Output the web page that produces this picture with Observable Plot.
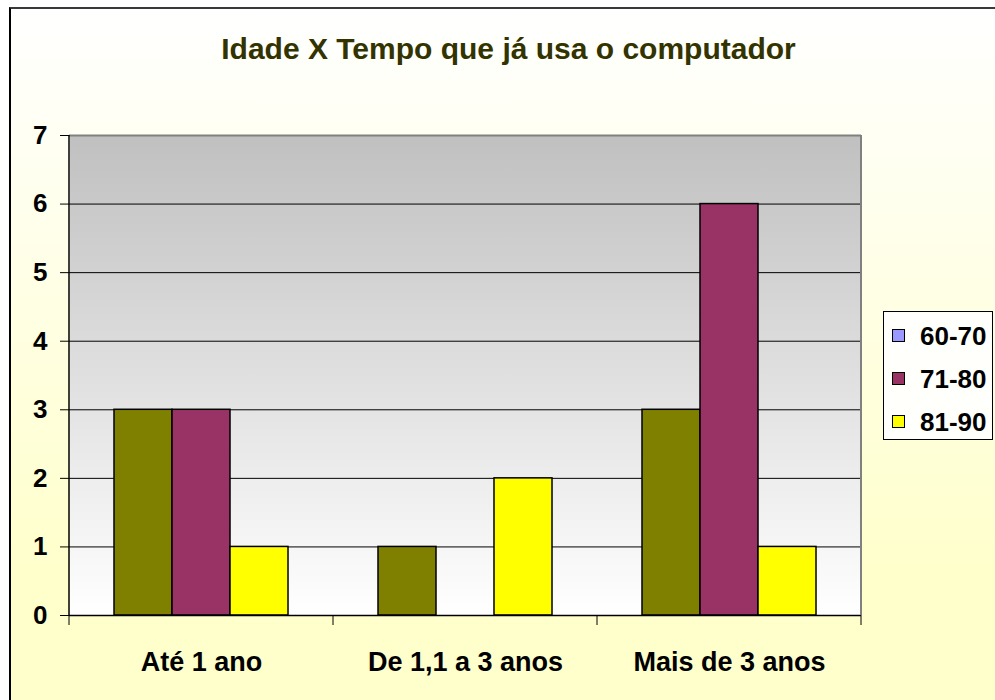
<!DOCTYPE html>
<html><head><meta charset="utf-8">
<script src="https://cdn.jsdelivr.net/npm/d3@7"></script>
<script src="https://cdn.jsdelivr.net/npm/@observablehq/plot@0.6"></script>
<style>
body{margin:0;background:#fff;}
#wrap{position:relative;width:995px;height:700px;overflow:hidden;font-family:"Liberation Sans",Arial,sans-serif;}
#area{position:absolute;left:9px;top:7px;width:1000px;height:720px;border-top:2px solid #3a3a3a;border-left:2px solid #000;background:linear-gradient(to bottom,#ffffff 0%,#ffffcc 78%);box-sizing:border-box;}
#title{position:absolute;left:9px;width:999px;top:34px;text-align:center;font-size:30px;line-height:30px;font-weight:bold;color:#333300;}
#plot{position:absolute;left:0;top:0;}
#legend{position:absolute;left:883px;top:311px;width:110px;height:129px;box-sizing:border-box;border:1px solid #000;background:#fffffb;padding-top:2px;}
.row{display:flex;align-items:center;height:43px;}
.sw{width:11px;height:11px;border:1px solid #000;margin-left:8px;margin-right:15px;}
.lt{font-size:26px;font-weight:bold;color:#000;line-height:26px;}
</style></head>
<body>
<div id="wrap">
  <div id="area"></div>
  <div id="plot"></div>
  <div id="title"></div>
  <div id="legend"></div>
</div>
<script>
const chartTitle = "Idade X Tempo que já usa o computador";
const categories = ["Até 1 ano", "De 1,1 a 3 anos", "Mais de 3 anos"];
const seriesNames = ["60-70", "71-80", "81-90"];
const values6070 = [3, 1, 3];
const values7180 = [3, 0, 6];
const values8190 = [1, 2, 1];
const yTicks = [0, 1, 2, 3, 4, 5, 6, 7];
const barColors = ["#808000", "#993366", "#FFFF00"];
const legendColors = ["#9999FF", "#993366", "#FFFF00"];

const seriesValues = [values6070, values7180, values8190];
const table = [];
categories.forEach((c, i) => {
  seriesNames.forEach((s, j) => {
    table.push({cat: c, series: s, value: seriesValues[j][i]});
  });
});

const chart = Plot.plot({
  width: 995, height: 700,
  marginLeft: 69, marginRight: 134, marginTop: 135, marginBottom: 85,
  style: {background: "transparent", fontFamily: "Liberation Sans, Arial, sans-serif", fontWeight: "bold", color: "#000"},
  fx: {domain: categories, padding: 0, label: null},
  x: {domain: seriesNames, paddingInner: 0, paddingOuter: 0.75, axis: null},
  y: {domain: [0, 7], axis: null},
  color: {domain: seriesNames, range: barColors},
  marks: [
    Plot.frame({fill: "url(#plotBg)", stroke: "none", shapeRendering: "crispEdges"}),
    Plot.ruleY(yTicks.filter(d => d > 0 && d < 7), {stroke: "#000", strokeWidth: 1}),
    Plot.ruleY([7], {stroke: "#808080", strokeWidth: 2}),
    Plot.barY(table, {fx: "cat", x: "series", y: "value", fill: "series", stroke: "#000", strokeWidth: 1.5}),
    Plot.ruleY([0], {stroke: "#000", strokeWidth: 1.5}),
    Plot.axisY({ticks: yTicks, tickSize: 9, tickPadding: 13, fontSize: 26, tickFormat: d => String(d), anchor: "left", label: null}),
    Plot.axisFx({anchor: "bottom", tickSize: 0, tickPadding: 36, fontSize: 27, label: null})
  ]
});

const svg = d3.select(chart);
const defs = svg.insert("defs", ":first-child");
const lg = defs.append("linearGradient").attr("id", "plotBg").attr("x1", 0).attr("y1", 0).attr("x2", 0).attr("y2", 1);
lg.append("stop").attr("offset", "0%").attr("stop-color", "#c0c0c0");
lg.append("stop").attr("offset", "100%").attr("stop-color", "#ffffff");

const fx = chart.scale("fx"), ys = chart.scale("y");
const bw = fx.bandwidth;
const starts = categories.map(c => fx.apply(c));
const xEnd = starts[starts.length - 1] + bw;
const y0 = ys.apply(0), yTop = ys.apply(7);
const g = svg.append("g");
g.append("line").attr("x1", xEnd).attr("x2", xEnd).attr("y1", yTop).attr("y2", y0).attr("stroke", "#808080").attr("stroke-width", 2);
g.append("line").attr("x1", starts[0]).attr("x2", starts[0]).attr("y1", yTop).attr("y2", y0).attr("stroke", "#000").attr("stroke-width", 1.5);
starts.concat([xEnd]).forEach(x => {
  g.append("line").attr("x1", x).attr("x2", x).attr("y1", y0).attr("y2", y0 + 10).attr("stroke", "#000").attr("stroke-width", 1);
});

document.getElementById("plot").appendChild(chart);
document.getElementById("title").textContent = chartTitle;

const legend = document.getElementById("legend");
seriesNames.forEach((s, i) => {
  const row = document.createElement("div");
  row.className = "row";
  const sw = document.createElement("div");
  sw.className = "sw";
  sw.style.background = legendColors[i];
  const t = document.createElement("span");
  t.className = "lt";
  t.textContent = s;
  row.appendChild(sw); row.appendChild(t);
  legend.appendChild(row);
});
</script>
</body></html>
